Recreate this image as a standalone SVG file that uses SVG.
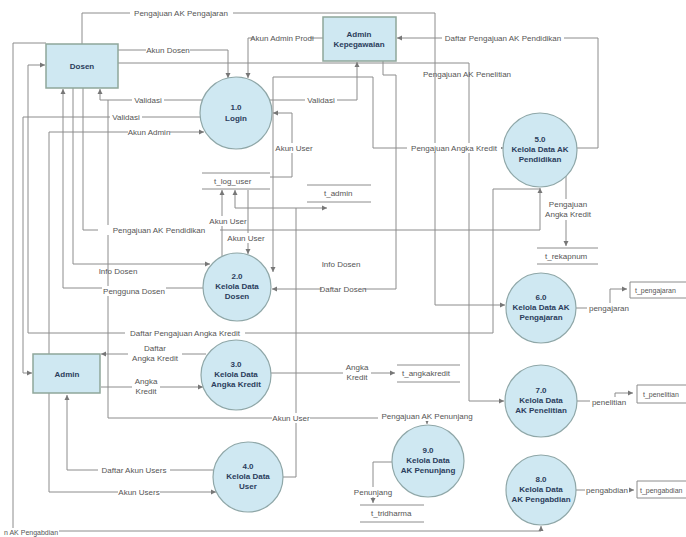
<svg xmlns="http://www.w3.org/2000/svg" width="686" height="537" viewBox="0 0 686 537">
<style>
.c{fill:none;stroke:#8c8c8c;stroke-width:1}
.ca{fill:none;stroke:#8c8c8c;stroke-width:1;marker-end:url(#ah)}
.lb{font-family:"Liberation Sans",Arial,sans-serif;font-size:8px;fill:#555;text-anchor:middle}
.nt{font-family:"Liberation Sans",Arial,sans-serif;font-size:8px;font-weight:bold;fill:#2b3d5c;text-anchor:middle}
.st{font-family:"Liberation Sans",Arial,sans-serif;font-size:8px;fill:#555}
.sr{font-family:"Liberation Sans",Arial,sans-serif;font-size:7px;fill:#555}
.bg{fill:#fff}
.pr{fill:#cfe8f2;stroke:#8fa7a8;stroke-width:1.2}
.ex{fill:#cfe8f2;stroke:#8fa79a;stroke-width:1.5}
.sl{stroke:#8c8c8c;stroke-width:1;fill:none}
</style>
<defs>
<marker id="ah" markerWidth="6" markerHeight="6" refX="5" refY="3" orient="auto" markerUnits="userSpaceOnUse">
<path d="M0,0.5 L5,3 L0,5.5 Z" fill="#777"/>
</marker>
</defs>
<rect width="686" height="537" fill="#fff"/>

<g id="connectors">
<path class="ca" d="M82,44 V13 H435 V305 H505"/>
<path class="ca" d="M118,50 H228 V78"/>
<path class="ca" d="M118,63 H469 V401 H504"/>
<path class="ca" d="M323,38 H248 V78"/>
<path class="ca" d="M577,148 H598 V38 H397"/>
<path class="ca" d="M202,100 H100 V89"/>
<path class="ca" d="M200,117 H23 V373 H32"/>
<path class="ca" d="M49,354 V132 H204"/>
<path class="ca" d="M270,100 H357 V62"/>
<path class="ca" d="M273,77 H373 V148 H503"/>
<path class="ca" d="M273,77 V272"/>
<path class="ca" d="M383,61 V75 H396 V289 H272"/>
<path class="ca" d="M83,88 V230 H540 V188"/>
<path class="ca" d="M566,176 V246"/>
<path class="ca" d="M540,189 H493 V333 H28 V65 H45"/>
<path class="ca" d="M73,88 V264 H210"/>
<path class="ca" d="M203,288 H63 V89"/>
<path class="ca" d="M270,177 H292 V113 H273"/>
<path class="ca" d="M222,256 V190"/>
<path class="ca" d="M248,190 V254"/>
<path class="ca" d="M283,477 H296 V208 H235 V190"/>
<path class="ca" d="M296,208 H327"/>
<path class="ca" d="M108,100 V418 H427 V424"/>
<path class="ca" d="M206,354 H101"/>
<path class="ca" d="M101,387 H203"/>
<path class="ca" d="M271,373 H395"/>
<path class="ca" d="M213,470 H67 V395"/>
<path class="ca" d="M49,393 V492 H216"/>
<path class="ca" d="M392,462 H373 V503"/>
<path class="ca" d="M576,308 H610 V289 H627"/>
<path class="ca" d="M577,401 H615 V393 H633"/>
<path class="ca" d="M576,490 H634"/>
<path class="ca" d="M46,43 H13 V531 H541 V526"/>

<rect class="bg" x="130" y="8" width="103" height="10"/><text class="lb" x="181" y="16">Pengajuan AK Pengajaran</text>
<rect class="bg" x="146" y="45" width="44" height="10"/><text class="lb" x="168" y="53">Akun Dosen</text>
<text class="lb" x="467" y="77">Pengajuan AK Penelitian</text>
<rect class="bg" x="254" y="33" width="56" height="10"/><text class="lb" x="282" y="41">Akun Admin Prodi</text>
<rect class="bg" x="442" y="33" width="122" height="10"/><text class="lb" x="503" y="41">Daftar Pengajuan AK Pendidikan</text>
<rect class="bg" x="132" y="95" width="32" height="10"/><text class="lb" x="148" y="103">Validasi</text>
<rect class="bg" x="110" y="112" width="32" height="10"/><text class="lb" x="126" y="120">Validasi</text>
<rect class="bg" x="128" y="127" width="42" height="10"/><text class="lb" x="149" y="135">Akun Admin</text>
<rect class="bg" x="305" y="95" width="32" height="10"/><text class="lb" x="321" y="103">Validasi</text>
<rect class="bg" x="407" y="143" width="94" height="10"/><text class="lb" x="454" y="151">Pengajuan Angka Kredit</text>
<rect class="bg" x="322" y="284" width="42" height="10"/><text class="lb" x="343" y="292">Daftar Dosen</text>
<rect class="bg" x="98" y="225" width="122" height="10"/><text class="lb" x="159" y="233">Pengajuan AK Pendidikan</text>
<rect class="bg" x="545" y="199" width="46" height="21"/><text class="lb" x="568" y="207">Pengajuan</text><text class="lb" x="568" y="217">Angka Kredit</text>
<rect class="bg" x="125" y="328" width="120" height="10"/><text class="lb" x="185" y="336">Daftar Pengajuan Angka Kredit</text>
<text class="lb" x="118" y="274">Info Dosen</text>
<text class="lb" x="341" y="267">Info Dosen</text>
<rect class="bg" x="102" y="286" width="64" height="10"/><text class="lb" x="134" y="294">Pengguna Dosen</text>
<rect class="bg" x="276" y="143" width="36" height="10"/><text class="lb" x="294" y="151">Akun User</text>
<rect class="bg" x="210" y="216" width="36" height="10"/><text class="lb" x="228" y="224">Akun User</text>
<rect class="bg" x="228" y="233" width="36" height="10"/><text class="lb" x="246" y="241">Akun User</text>
<rect class="bg" x="272" y="413" width="38" height="10"/><text class="lb" x="291" y="421">Akun User</text>
<rect class="bg" x="378" y="411" width="98" height="10"/><text class="lb" x="427" y="419">Pengajuan AK Penunjang</text>
<rect class="bg" x="128" y="343" width="54" height="20"/><text class="lb" x="155" y="351">Daftar</text><text class="lb" x="155" y="361">Angka Kredit</text>
<rect class="bg" x="132" y="376" width="28" height="20"/><text class="lb" x="146" y="384">Angka</text><text class="lb" x="146" y="394">Kredit</text>
<rect class="bg" x="343" y="362" width="28" height="20"/><text class="lb" x="357" y="370">Angka</text><text class="lb" x="357" y="380">Kredit</text>
<rect class="bg" x="98" y="465" width="72" height="10"/><text class="lb" x="134" y="473">Daftar Akun Users</text>
<rect class="bg" x="118" y="487" width="42" height="10"/><text class="lb" x="139" y="495">Akun Users</text>
<rect class="bg" x="352" y="487" width="42" height="10"/><text class="lb" x="373" y="495">Penunjang</text>
<rect class="bg" x="587" y="303" width="45" height="10"/><text class="lb" x="609" y="311">pengajaran</text>
<rect class="bg" x="590" y="397" width="38" height="10"/><text class="lb" x="609" y="405">penelitian</text>
<rect class="bg" x="585" y="485" width="44" height="10"/><text class="lb" x="607" y="493">pengabdian</text>
<rect class="bg" x="3" y="528" width="56" height="9"/><text class="sr" x="4" y="535">n AK Pengabdian</text>
</g>

<g id="dosen"><rect class="ex" x="46" y="44" width="72" height="44"/><text class="nt" x="82" y="69">Dosen</text></g>
<g id="admin-kepegawaian"><rect class="ex" x="323" y="17" width="73" height="44"/><text class="nt" x="359" y="37">Admin</text><text class="nt" x="359" y="47">Kepegawaian</text></g>
<g id="admin"><rect class="ex" x="33" y="354" width="67" height="39"/><text class="nt" x="67" y="377">Admin</text></g>

<g id="p1"><circle class="pr" cx="236" cy="113" r="36"/><text class="nt" x="236" y="110">1.0</text><text class="nt" x="236" y="121">Login</text></g>
<g id="p2"><circle class="pr" cx="237" cy="287" r="34"/><text class="nt" x="237" y="279">2.0</text><text class="nt" x="237" y="289">Kelola Data</text><text class="nt" x="237" y="299">Dosen</text></g>
<g id="p3"><circle class="pr" cx="236" cy="375" r="35"/><text class="nt" x="236" y="367">3.0</text><text class="nt" x="236" y="377">Kelola Data</text><text class="nt" x="236" y="387">Angka Kredit</text></g>
<g id="p4"><circle class="pr" cx="248" cy="477" r="35"/><text class="nt" x="248" y="469">4.0</text><text class="nt" x="248" y="479">Kelola Data</text><text class="nt" x="248" y="489">User</text></g>
<g id="p5"><circle class="pr" cx="540" cy="150" r="37"/><text class="nt" x="540" y="142">5.0</text><text class="nt" x="540" y="152">Kelola Data AK</text><text class="nt" x="540" y="162">Pendidikan</text></g>
<g id="p6"><circle class="pr" cx="541" cy="308" r="35"/><text class="nt" x="541" y="300">6.0</text><text class="nt" x="541" y="310">Kelola Data AK</text><text class="nt" x="541" y="320">Pengajaran</text></g>
<g id="p7"><circle class="pr" cx="541" cy="401" r="36"/><text class="nt" x="541" y="393">7.0</text><text class="nt" x="541" y="403">Kelola Data</text><text class="nt" x="541" y="413">AK Penelitian</text></g>
<g id="p8"><circle class="pr" cx="541" cy="490" r="35"/><text class="nt" x="541" y="482">8.0</text><text class="nt" x="541" y="492">Kelola Data</text><text class="nt" x="541" y="502">AK Pengabdian</text></g>
<g id="p9"><circle class="pr" cx="428" cy="461" r="36"/><text class="nt" x="428" y="453">9.0</text><text class="nt" x="428" y="463">Kelola Data</text><text class="nt" x="428" y="473">AK Penunjang</text></g>

<g id="t_log_user"><path class="sl" d="M202,173 H270 M202,189 H270"/><text class="st" x="214" y="184">t_log_user</text></g>
<g id="t_admin"><path class="sl" d="M307,185 H371 M307,202 H371"/><text class="st" x="324" y="196">t_admin</text></g>
<g id="t_rekapnum"><path class="sl" d="M537,248 H598 M537,264 H598"/><text class="st" x="545" y="259">t_rekapnum</text></g>
<g id="t_angkakredit"><path class="sl" d="M397,365 H460 M397,382 H460"/><text class="st" x="402" y="376">t_angkakredit</text></g>
<g id="t_tridharma"><path class="sl" d="M360,505 H424 M360,522 H424"/><text class="st" x="371" y="516">t_tridharma</text></g>
<g id="t_pengajaran"><path class="sl" d="M686,282 H630 V298 H686"/><text class="sr" x="635" y="293">t_pengajaran</text></g>
<g id="t_penelitian"><path class="sl" d="M686,385 H637 V403 H686"/><text class="sr" x="643" y="397">t_penelitian</text></g>
<g id="t_pengabdian"><path class="sl" d="M686,481 H637 V498 H686"/><text class="sr" x="640" y="493">t_pengabdian</text></g>
</svg>
